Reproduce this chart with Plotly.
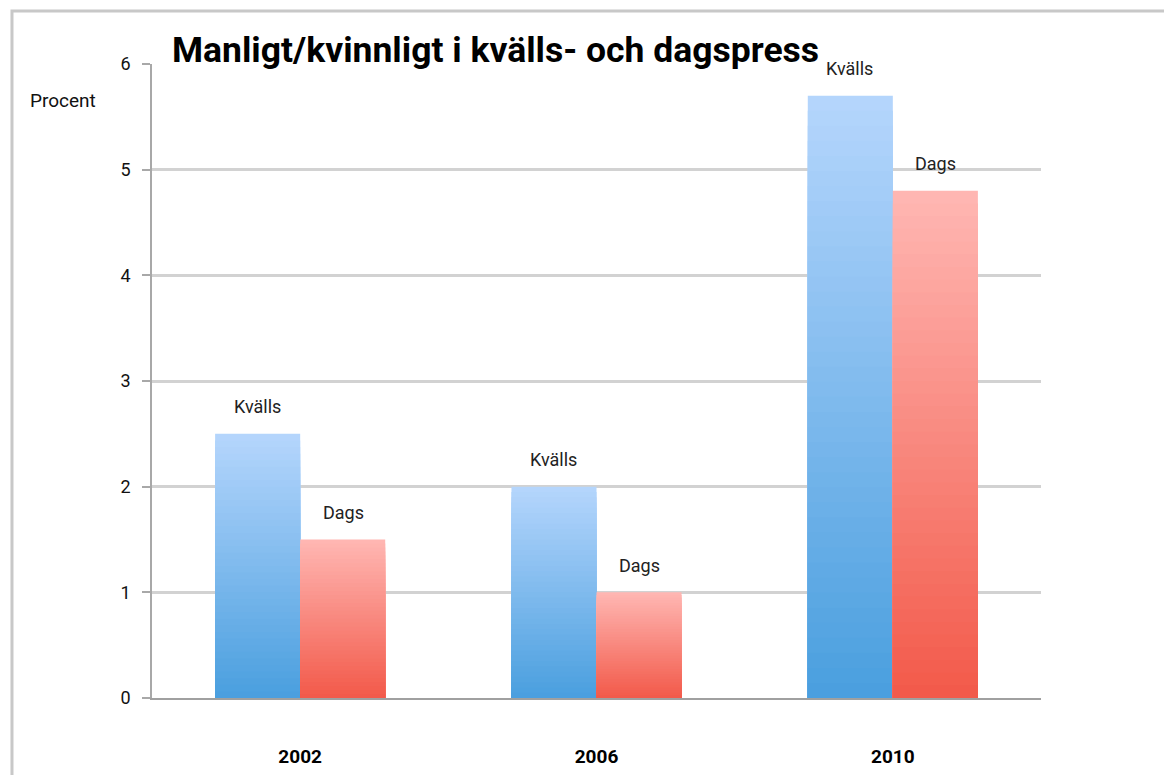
import plotly.graph_objects as go

years = ["2002", "2006", "2010"]
kvalls = [2.5, 2.0, 5.7]
dags = [1.5, 1.0, 4.8]
series_names = ["Kvälls", "Dags"]
title_text = "Manligt/kvinnligt i kvälls- och dagspress"
y_title = "Procent"

# gradient colours (top, bottom)
kv_top, kv_bot = (180, 213, 252), (72, 158, 222)
dg_top, dg_bot = (255, 182, 178), (242, 88, 72)

N = 40
FONT = "Roboto, sans-serif"

def mix(c1, c2, t):
    return "rgb(%d,%d,%d)" % tuple(round(a + (b - a) * t) for a, b in zip(c1, c2))

fig = go.Figure()
for name, vals, top, bot in [(series_names[0], kvalls, kv_top, kv_bot),
                              (series_names[1], dags, dg_top, dg_bot)]:
    for k in range(N):
        frac = (N - k) / N  # fraction of full height
        fig.add_trace(go.Bar(
            x=years, y=[v * frac for v in vals], offsetgroup=name,
            marker=dict(color=mix(bot, top, frac), line=dict(width=0)),
            showlegend=False, hoverinfo="skip"))

annotations = []
for i, yr in enumerate(years):
    for vals, name, shift in [(kvalls, series_names[0], -43), (dags, series_names[1], 43)]:
        annotations.append(dict(x=i, y=vals[i], xref="x", yref="y", text=name,
                                showarrow=False, xshift=shift, yshift=27,
                                font=dict(family=FONT, size=18, color="#222")))

annotations.append(dict(x=0.02, y=1.022, xref="paper", yref="paper", text="<b>" + title_text + "</b>",
                        showarrow=False, xanchor="left", yanchor="middle",
                        font=dict(family=FONT, size=35.5, color="#000")))
annotations.append(dict(x=-0.1, y=0.943, xref="paper", yref="paper", text=y_title,
                        showarrow=False, xanchor="center", yanchor="middle",
                        font=dict(family=FONT, size=19, color="#111")))

fig.update_layout(
    width=1172, height=775,
    margin=dict(l=144, r=139, t=56, b=85, autoexpand=False),
    paper_bgcolor="white", plot_bgcolor="white",
    barmode="group", bargap=0.426, bargroupgap=0,
    annotations=annotations,
    shapes=[dict(type="rect", xref="paper", yref="paper",
                 x0=-0.1575, x1=1.3, y0=-0.3, y1=1.0836,
                 line=dict(color="#c8c8c8", width=3), layer="below")],
    font=dict(family=FONT, color="#111"),
)
fig.update_yaxes(range=[0, 6], dtick=1, showgrid=True, gridcolor="#d2d2d2", gridwidth=2.5,
                 showline=True, linecolor="#a8a8a8", linewidth=1.5,
                 ticks="outside", ticklen=8, tickcolor="#a8a8a8", tickwidth=2,
                 ticklabelstandoff=8,
                 tickfont=dict(family=FONT, size=18, color="#111"), zeroline=False,
                 automargin=False)
fig.update_xaxes(type="category", range=[-0.5, len(years) - 0.5],
                 showline=True, linecolor="#a0a0a0", linewidth=2, ticks="",
                 tickfont=dict(family=FONT, size=19, color="#000"),
                 ticklabelstandoff=40, automargin=False, tickangle=0,
                 tickvals=years, ticktext=["<b>%s</b>" % y for y in years])

fig.write_html("out.html")
